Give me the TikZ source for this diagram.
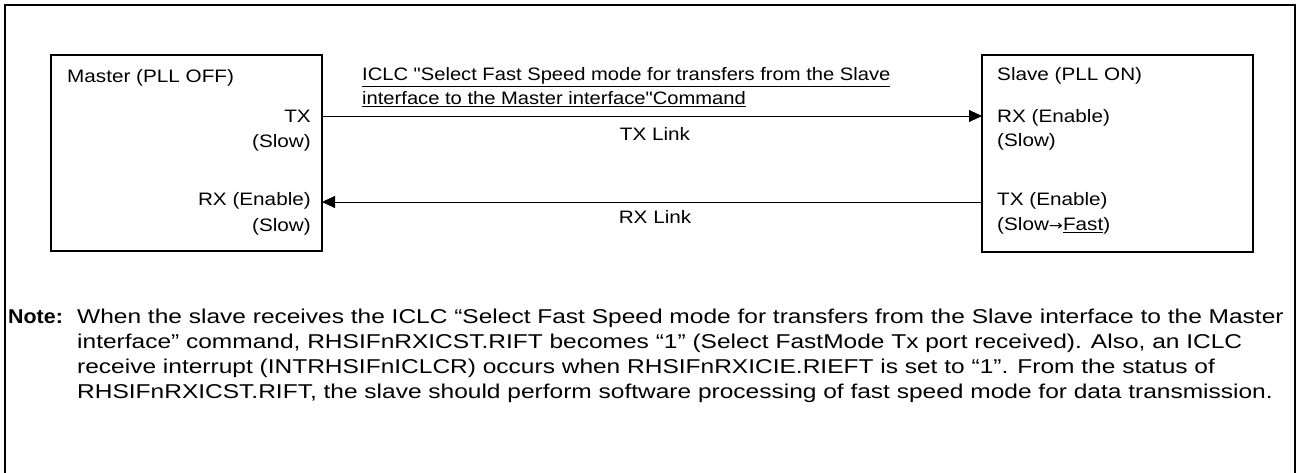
\documentclass[tikz,border=0pt]{standalone}
\usepackage{fontspec}
\setmainfont{Liberation Sans}
\newfontfamily\lblfont[FakeStretch=1.15]{Liberation Sans}
\newfontfamily\cmdfont[FakeStretch=1.12]{Liberation Sans}
\newfontfamily\notefont[FakeStretch=1.225]{Liberation Sans}
\newfontfamily\notehead[FakeStretch=1.07]{Liberation Sans}
\newfontfamily\arrowfont[FakeStretch=1.2]{DejaVu Sans}
\usetikzlibrary{arrows.meta}
\begin{document}
\begin{tikzpicture}[x=1pt,y=-1pt,
  box/.style={draw,line width=2pt},
  lbl/.style={inner sep=0pt,font=\lblfont\fontsize{18}{22}\selectfont},
  cmd/.style={inner sep=0pt,font=\cmdfont\fontsize{18}{22}\selectfont},
  link/.style={line width=0.9pt,-{Triangle[length=13pt,width=12pt]}},
  note/.style={inner sep=0pt,font=\notefont\fontsize{20}{25}\selectfont}]
\useasboundingbox (0,0) rectangle (1301,473);
\draw[line width=2pt] (5,480) -- (5,5) -- (1295,5) -- (1295,480);
% boxes
\draw[box] (51,55) rectangle (322,251);
\draw[box] (982,55) rectangle (1253,252);
\coordinate (mtx) at (322,116);
\coordinate (mrx) at (322,202);
\coordinate (srx) at (982,116);
\coordinate (stx) at (982,202);
% master texts
\node[lbl,anchor=base west] (mt) at (67,83) {Master (PLL OFF)};
\node[lbl,anchor=base east] (mtx1) at (311,123) {TX};
\node[lbl,anchor=base east] (mtx2) at (311,148) {(Slow)};
\node[lbl,anchor=base east] (mrx1) at (311,206) {RX (Enable)};
\node[lbl,anchor=base east] (mrx2) at (311,232) {(Slow)};
% slave texts
\node[lbl,anchor=base west] (st) at (997,81) {Slave (PLL ON)};
\node[lbl,anchor=base west] (srx1) at (997,123) {RX (Enable)};
\node[lbl,anchor=base west] (srx2) at (997,147) {(Slow)};
\node[lbl,anchor=base west] (stx1) at (997,206) {TX (Enable)};
\node[lbl,anchor=base west] (stx2) at (997,231) {(Slow{\arrowfont\fontsize{14}{14}\selectfont→}\underline{Fast})};
% links
\draw[link] (mtx) -- (srx);
\draw[link] (stx) -- (mrx);
\node[cmd,anchor=base west] (cmd1) at (362,81) {\underline{ICLC "Select Fast Speed mode for transfers from the Slave}};
\node[cmd,anchor=base west] (cmd2) at (362,105) {\underline{interface to the Master interface"Command}};
\node[lbl,anchor=base] (txl) at (655,141) {TX Link};
\node[lbl,anchor=base] (rxl) at (655,224) {RX Link};
% note
\node[inner sep=0pt,anchor=base west,font=\notehead\bfseries\fontsize{20}{25}\selectfont] (nt) at (8,323) {Note:};
\node[note,anchor=base west] (n1) at (77,323) {When the slave receives the ICLC “Select Fast Speed mode for transfers from the Slave interface to the Master};
\node[note,anchor=base west] (n2) at (77,348) {interface” command, RHSIFnRXICST.RIFT becomes “1” (Select FastMode Tx port received). Also, an ICLC};
\node[note,anchor=base west] (n3) at (77,373) {receive interrupt (INTRHSIFnICLCR) occurs when RHSIFnRXICIE.RIEFT is set to “1”. From the status of};
\node[note,anchor=base west] (n4) at (77,398) {RHSIFnRXICST.RIFT, the slave should perform software processing of fast speed mode for data transmission.};
\end{tikzpicture}
\end{document}
